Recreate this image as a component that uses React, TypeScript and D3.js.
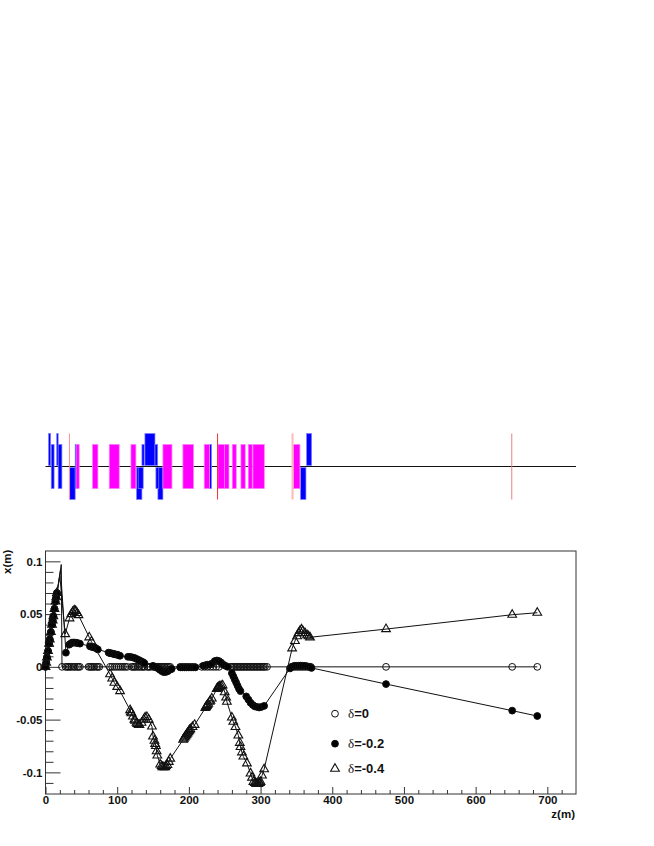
import React, { useEffect, useRef } from "react";
import * as d3 from "d3";

// beamline elements, start and end in z(m)
const bendMagnets = [[42.8, 47], [65.6, 73.1], [88.9, 102.8], [119.2, 126.1], [163.8, 176.4], [191.7, 206.5], [221.4, 228.8], [240.5, 249.8], [249.8, 255.9], [260.5, 266.1], [272.6, 278.6], [282.8, 288.4], [289.4, 305.2], [345.6, 354.9]];
const quadsHigh = [[4.2, 7.2], [15.6, 17.7], [138.7, 152.7], [364.2, 371.2]];
const quadsLow = [[33.8, 41.4], [127, 134.5], [156.8, 163.8], [355.8, 363.3]];
const quadsMid = [[8, 12], [17.7, 22.9], [41.4, 44.4], [228.8, 231.6]];
const quadsMidUpper = [[134.5, 137.7], [152.7, 156.5]];
const quadsMidLower = [[129.3, 136.3], [154, 158]];
const thinElements = [33.4, 240, 344.6, 650.4];
const thinColors = ["#ff9090", "#f03030", "#ffb8b8", "#e88080"];

// tracks, pairs of z(m) and x(m). The spike tip has no marker in the reference
const rise = [[0, 0], [1, 0.004], [2, 0.009], [3.5, 0.015], [5, 0.022], [6, 0.026], [7.5, 0.033], [9, 0.04], [10, 0.044], [11, 0.048], [12.5, 0.055], [14, 0.062], [15, 0.066], [16, 0.07]];
const trackZero = [[23, 0],
  [28, 0], [30, 0], [32, 0], [34, 0], [36, 0], [39, 0], [41, 0], [44, 0], [46, 0], [48, 0],
  [60, 0], [62, 0], [64, 0], [66, 0], [68, 0], [71, 0], [73, 0], [75, 0],
  [90, 0], [93, 0], [96, 0], [99, 0], [102, 0], [105, 0], [108, 0], [111, 0], [114, 0],
  [120, 0], [122, 0], [124, 0], [126, 0], [129, 0], [131, 0], [134, 0], [136, 0], [138, 0], [142, 0], [144, 0], [146, 0], [150, 0], [152, 0], [154, 0], [156, 0], [158, 0], [160, 0], [162, 0], [164, 0], [166, 0], [168, 0], [170, 0], [172, 0], [174, 0],
  [188, 0], [192, 0], [196, 0], [200, 0], [204, 0], [208, 0],
  [218, 0], [222, 0], [226, 0], [230, 0], [234, 0], [238, 0], [242, 0],
  [258, 0], [260, 0], [262, 0], [264, 0], [266, 0], [268, 0], [270, 0], [272, 0], [274, 0], [276, 0], [278, 0], [280, 0], [282, 0], [284, 0], [286, 0], [288, 0], [290, 0], [292, 0], [294, 0], [296, 0], [298, 0], [300, 0], [302, 0], [304, 0], [306, 0], [309, 0],
  [343, 0], [346, 0], [349, 0], [352, 0], [355, 0], [358, 0], [361, 0], [364, 0], [367, 0], [370, 0],
  [475, 0], [651, 0], [686, 0]];
const trackMinus02 = [[28.5, 0.0134],
  [33, 0.021], [35, 0.022], [37, 0.023], [39, 0.023], [41, 0.023], [43, 0.0228], [45, 0.0225], [48, 0.022],
  [62, 0.0195], [64, 0.019], [66, 0.0188], [68, 0.0185], [70, 0.0178], [73, 0.0165],
  [88, 0.0135], [90, 0.013], [92, 0.0128], [94, 0.0125], [96, 0.012], [98, 0.0118], [100, 0.0115], [102, 0.011], [104, 0.0105],
  [115, 0.0095], [118, 0.0095], [121, 0.009], [124, 0.0085], [127, 0.0075], [130, 0.0065], [133, 0.0055], [136, 0.0045], [138, 0.0035],
  [150, 0.001], [153, 0], [156, -0.001], [159, -0.0025], [162, -0.004], [165, -0.005], [168, -0.0048], [171, -0.004], [174, -0.0025], [176, -0.002],
  [188, -0.0005], [191, -0.0005], [194, -0.0005], [197, -0.0005], [200, -0.0005], [203, -0.0005], [206, -0.0005], [209, -0.0005],
  [220, 0.001], [223, 0.0015], [226, 0.002], [229, 0.002], [232, 0.003],
  [236, 0.0055], [239, 0.006], [242, 0.0055], [245, 0.004], [248, 0.002], [251, 0.001], [254, 0],
  [260, -0.006], [262, -0.009], [264, -0.012], [266, -0.015], [268, -0.018], [270, -0.021], [272, -0.023],
  [280, -0.028], [283, -0.031], [286, -0.034], [289, -0.036], [292, -0.0375], [295, -0.038], [298, -0.0385], [301, -0.038], [305, -0.037],
  [341, -0.0015], [344, 0], [347, 0.001], [350, 0.001], [353, 0.001], [356, 0.0012], [359, 0.001], [362, 0.001], [365, 0.0005], [368, 0], [371, -0.001],
  [475, -0.0163], [651, -0.0415], [686, -0.0466]];
const trackMinus04 = [[27.5, 0.031], [33.5, 0.046], [36, 0.05], [38, 0.052], [40, 0.0535], [42, 0.053], [44, 0.051], [46, 0.049],
  [61, 0.028], [64, 0.024], [90, -0.007], [93, -0.011], [96, -0.015], [100, -0.019], [104, -0.023],
  [118, -0.041], [119, -0.043], [120, -0.044], [122, -0.047], [124, -0.05], [125, -0.051], [127, -0.053], [128, -0.054], [130, -0.055], [131, -0.055], [134, -0.053], [137, -0.05], [139, -0.048], [141.5, -0.0475], [144, -0.05],
  [148.5, -0.0565], [150, -0.066], [152, -0.07], [153, -0.073], [154, -0.075], [155, -0.08], [156, -0.084], [160, -0.0925], [162, -0.094], [163, -0.095], [165, -0.095], [167, -0.095], [168, -0.094], [170, -0.093], [172, -0.09], [174, -0.087],
  [192, -0.069], [193, -0.068], [194, -0.067], [195, -0.066], [196, -0.065], [197, -0.064], [198, -0.063], [199, -0.062], [200, -0.061], [201, -0.06], [202, -0.059], [205, -0.057], [208, -0.055],
  [223, -0.039], [224, -0.038], [225, -0.037], [226, -0.036], [227, -0.035], [229, -0.033], [230, -0.032], [232, -0.03],
  [239, -0.021], [240, -0.02], [241, -0.0195], [242, -0.019], [243, -0.0185], [245, -0.018], [247, -0.0175], [250, -0.024], [252, -0.029], [253, -0.033],
  [260, -0.048], [262, -0.052], [265, -0.057], [269, -0.065], [271, -0.072], [272, -0.076], [274, -0.081], [276, -0.085], [281, -0.0915], [286, -0.101], [288, -0.105], [290, -0.109],
  [292, -0.11], [293, -0.11], [294, -0.111], [295, -0.111], [296, -0.111], [297, -0.111], [298, -0.11], [299, -0.11], [300, -0.109], [302, -0.103], [305, -0.097],
  [344, 0.0175], [348, 0.0245], [351, 0.029], [353, 0.032], [355, 0.034], [357, 0.0355], [359, 0.034], [362, 0.032], [365, 0.03], [367, 0.029], [369, 0.028],
  [475, 0.0358], [651, 0.0494], [686, 0.0513]];
const spikeTips = [[22, 0.097], [21, 0.092], [20, 0.086]];

const xMajor = [0, 100, 200, 300, 400, 500, 600, 700];
const xMinor = [20, 40, 60, 80, 120, 140, 160, 180, 220, 240, 260, 280, 320, 340, 360, 380, 420, 440, 460, 480, 520, 540, 560, 580, 620, 640, 660, 680, 720];
const yMajor = [-0.1, -0.05, 0, 0.05, 0.1];
const yMinor = [-0.11, -0.09, -0.08, -0.07, -0.06, -0.04, -0.03, -0.02, -0.01, 0.01, 0.02, 0.03, 0.04, 0.06, 0.07, 0.08, 0.09];
const legendLabels = ["=0", "=-0.2", "=-0.4"];

const FONT = "'Liberation Sans', Arial, sans-serif";

export default function App() {
  const ref = useRef<SVGSVGElement>(null);

  useEffect(() => {
    const svg = d3.select(ref.current);
    svg.selectAll("*").remove();

    const left = 45.5, right = 576, top = 551, bottom = 794;
    const xScale = d3.scaleLinear().domain([0, 740]).range([left, right]);
    const yScale = d3.scaleLinear().domain([-0.1205, 0.1098]).range([bottom, top]);
    const beamY = d3.scaleLinear().domain([-1, 1]).range([499.5, 433.5]);

    // beamline sketch: base line goes under the magnets
    svg.append("line")
      .attr("x1", left).attr("x2", right)
      .attr("y1", beamY(0)).attr("y2", beamY(0))
      .attr("stroke", "#111").attr("stroke-width", 1);

    const drawBlocks = (data: number[][], y0: number, y1: number, fill: string, stroke: string) => {
      svg.append("g").selectAll("rect").data(data).join("rect")
        .attr("x", (d) => xScale(d[0]))
        .attr("width", (d) => xScale(d[1]) - xScale(d[0]))
        .attr("y", beamY(y1))
        .attr("height", beamY(y0) - beamY(y1))
        .attr("fill", fill)
        .attr("stroke", stroke)
        .attr("stroke-width", 0.7);
    };
    const blue = "#0000ff", blueEdge = "#8080ff";
    drawBlocks(quadsHigh, 0.03, 1, blue, blueEdge);
    drawBlocks(quadsLow, -1, -0.03, blue, blueEdge);
    drawBlocks(quadsMid, -0.67, 0.67, blue, blueEdge);
    drawBlocks(quadsMidUpper, 0.03, 0.67, blue, blueEdge);
    drawBlocks(quadsMidLower, -0.67, -0.03, blue, blueEdge);
    drawBlocks(bendMagnets, -0.67, 0.67, "#ff00ff", "#ff80ff");

    svg.append("g").selectAll("line").data(thinElements).join("line")
      .attr("x1", (d) => xScale(d)).attr("x2", (d) => xScale(d))
      .attr("y1", beamY(1)).attr("y2", beamY(-1))
      .attr("stroke", (d, i) => thinColors[i])
      .attr("stroke-width", (d, i) => (i === 2 ? 2 : 1));

    // lower plot frame
    svg.append("rect")
      .attr("x", left).attr("y", top)
      .attr("width", right - left).attr("height", bottom - top)
      .attr("fill", "none").attr("stroke", "#333").attr("stroke-width", 1);

    const styleAxis = (g: any) => {
      g.select(".domain").remove();
      g.selectAll("line").attr("stroke", "#333").attr("stroke-width", 1);
      g.selectAll("text")
        .attr("fill", "#111")
        .style("font-family", FONT)
        .style("font-size", "11.5px")
        .style("font-weight", "bold");
    };

    const xFormat = (d: any) => String(d);
    const yFormat = (d: any) => String(d);
    svg.append("g").attr("transform", `translate(0,${bottom})`)
      .call(d3.axisBottom(xScale).tickValues(xMinor).tickSize(-4).tickFormat(() => ""))
      .call(styleAxis);
    svg.append("g").attr("transform", `translate(0,${bottom})`)
      .call(d3.axisBottom(xScale).tickValues(xMajor).tickSize(-7).tickPadding(2).tickFormat(xFormat))
      .call(styleAxis);
    svg.append("g").attr("transform", `translate(${left},0)`)
      .call(d3.axisLeft(yScale).tickValues(yMinor).tickSize(-8).tickFormat(() => ""))
      .call(styleAxis);
    svg.append("g").attr("transform", `translate(${left},0)`)
      .call(d3.axisLeft(yScale).tickValues(yMajor).tickSize(-15).tickPadding(3).tickFormat(yFormat))
      .call(styleAxis);

    // axis titles
    svg.append("text")
      .attr("x", 575).attr("y", 817.5).attr("text-anchor", "end")
      .style("font-family", FONT).style("font-size", "11.5px").style("font-weight", "bold")
      .attr("fill", "#111").text("z(m)");
    svg.append("text")
      .attr("transform", "translate(11,574) rotate(-90)")
      .style("font-family", FONT).style("font-size", "11.5px").style("font-weight", "bold")
      .attr("fill", "#111").text("x(m)");

    // tracks
    const line = d3.line<number[]>().x((d) => xScale(d[0])).y((d) => yScale(d[1]));
    const trianglePath = d3.symbol().type(d3.symbolTriangle).size(33)();
    const drawMarker = (g: any, kind: number) => {
      if (kind === 2) {
        return g.append("path").attr("d", trianglePath).attr("fill", "none").attr("stroke", "#111").attr("stroke-width", 1.1);
      }
      return g.append("circle").attr("r", 3.4)
        .attr("fill", kind === 1 ? "#000" : "none")
        .attr("stroke", "#111").attr("stroke-width", 1);
    };

    [trackZero, trackMinus02, trackMinus04].forEach((track, kind) => {
      svg.append("path").datum([...rise, spikeTips[kind], ...track])
        .attr("d", line)
        .attr("fill", "none").attr("stroke", "#111").attr("stroke-width", 1);
      [...rise, ...track].forEach((d) => {
        const g = svg.append("g").attr("transform", `translate(${xScale(d[0])},${yScale(d[1])})`);
        drawMarker(g, kind);
      });
    });

    // legend
    const legendRows = [713.7, 743.7, 768.7];
    legendLabels.forEach((label, i) => {
      const g = svg.append("g").attr("transform", `translate(335,${legendRows[i]})`);
      drawMarker(g, i);
      const t = svg.append("text")
        .attr("x", 348).attr("y", legendRows[i] + 4.5)
        .attr("fill", "#111")
        .style("font-family", FONT).style("font-size", "13px").style("font-weight", "bold");
      t.append("tspan").style("font-family", "'Liberation Serif', serif").style("font-weight", "normal").text("δ");
      t.append("tspan").text(label);
    });
  }, []);

  return (
    <svg
      ref={ref}
      width={654}
      height={846}
      style={{ position: "absolute", left: 0, top: 0, background: "#fff" }}
    />
  );
}
